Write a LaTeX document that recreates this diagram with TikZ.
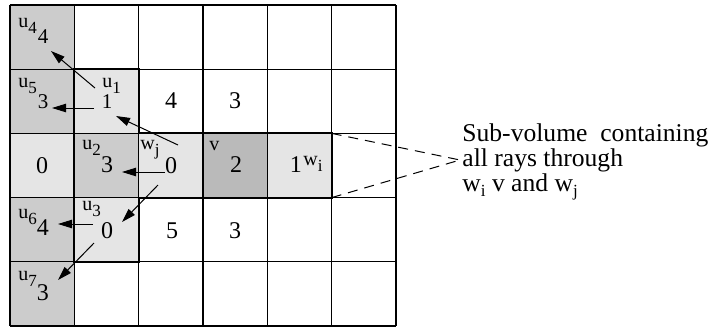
\documentclass[tikz,border=0pt]{standalone}
\usepackage{fontspec}
\setmainfont{Liberation Serif}
\usetikzlibrary{arrows.meta}

\newcommand{\sbs}[2][3pt]{\raisebox{-#1}{\fontsize{8.5}{8.5}\selectfont #2}}

\begin{document}
\begin{tikzpicture}[
    x=0.5pt, y=-0.5pt,
    darkcell/.style={fill=black!20},
    lightcell/.style={fill=black!10},
    vcell/.style={fill=black!27},
    gridline/.style={line width=0.6pt},
    border/.style={line width=1pt, line join=miter},
    num/.style={anchor=base, inner sep=0pt, font=\fontsize{12}{12}\selectfont},
    smallnum/.style={anchor=base, inner sep=0pt, font=\fontsize{10.5}{10.5}\selectfont},
    lbl/.style={anchor=base west, inner sep=0pt, font=\fontsize{10}{10}\selectfont},
    note/.style={anchor=north west, inner sep=0pt, align=left, font=\fontsize{12.8}{10.5}\selectfont},
    arrow/.style={-{Triangle[length=7pt,width=4.2pt]}, line width=0.5pt},
    ray/.style={dash pattern=on 5pt off 3.5pt, line width=0.5pt},
]
\useasboundingbox (0,0) rectangle (709,327);

% shaded cells
\fill[darkcell] (10,5) rectangle (74.33,133.4);
\fill[darkcell] (10,197.6) rectangle (74.33,326);
\fill[darkcell] (74.33,133.4) rectangle (138.67,197.6);
\fill[lightcell] (10,133.4) rectangle (74.33,197.6);
\fill[lightcell] (74.33,69.2) rectangle (138.67,133.4);
\fill[lightcell] (74.33,197.6) rectangle (138.67,261.8);
\fill[lightcell] (138.67,133.4) rectangle (203,197.6);
\fill[lightcell] (267.33,133.4) rectangle (331.67,197.6);
\fill[vcell] (203,133.4) rectangle (267.33,197.6);

% grid
\foreach \x in {10,74.33,138.67,203,267.33,331.67,396}
    \draw[gridline] (\x,5) -- (\x,326);
\foreach \y in {5,69.2,133.4,197.6,261.8,326}
    \draw[gridline] (10,\y) -- (396,\y);
\draw[border] (74.33,69.2) -- (138.67,69.2) -- (138.67,133.4) -- (331.67,133.4)
    -- (331.67,197.6) -- (138.67,197.6) -- (138.67,261.8) -- (74.33,261.8) -- cycle;

% labels
\node[lbl] (u4) at (18,27) {u\sbs{4}};
\node[lbl] (u5) at (18,87) {u\sbs{5}};
\node[lbl] (u1) at (102,87) {u\sbs{1}};
\node[lbl] (u2) at (82,149) {u\sbs{2}};
\node[lbl] (wj) at (140,149) {w\sbs{j}};
\node[lbl] (v) at (209,150) {v};
\node[lbl] (wi) at (303,165) {w\sbs{i}};
\node[lbl] (u6) at (18,218) {u\sbs{6}};
\node[lbl] (u3) at (82,210) {u\sbs{3}};
\node[lbl] (u7) at (18,280) {u\sbs{7}};

% cell values
\node[smallnum] (n44) at (43,43) {4};
\node[smallnum] (n53) at (43,108) {3};
\node[smallnum] (n11) at (107,108) {1};
\node[num] (r2c3) at (171,108) {4};
\node[num] (r2c4) at (235,108) {3};
\node[num] (r3c1) at (42,173) {0};
\node[num] (n23) at (107,172) {3};
\node[num] (nj0) at (171,173) {0};
\node[num] (nv2) at (236,172) {2};
\node[num] (ni1) at (296,172) {1};
\node[num] (n64) at (43,235) {4};
\node[num] (n30) at (107,238) {0};
\node[num] (r4c3) at (172,238) {5};
\node[num] (r4c4) at (235,238) {3};
\node[num] (n73) at (43,300) {3};

% ray ends
\coordinate (u1-a) at (95,88);
\coordinate (u1-b) at (94,108);
\coordinate (u4-in) at (51,51);
\coordinate (u5-in) at (52,108);
\coordinate (wj-a) at (178,145);
\coordinate (wj-b) at (165,172);
\coordinate (wj-c) at (158,185);
\coordinate (u1-in) at (116,116);
\coordinate (u2-in) at (122,172);
\coordinate (u3-in) at (122,222);
\coordinate (u3-a) at (93,224);
\coordinate (u3-b) at (94,243);
\coordinate (u6-in) at (58,224);
\coordinate (u7-in) at (58,280);

\draw[arrow] (u1-a) -- (u4-in);
\draw[arrow] (u1-b) -- (u5-in);
\draw[arrow] (wj-a) -- (u1-in);
\draw[arrow] (wj-b) -- (u2-in);
\draw[arrow] (wj-c) -- (u3-in);
\draw[arrow] (u3-a) -- (u6-in);
\draw[arrow] (u3-b) -- (u7-in);

% sub-volume note
\node[note] (subvol) at (462,123) {Sub-volume\ \ containing\\all rays through\\w\sbs[2.5pt]{i} v and w\sbs[2.5pt]{j}};
\coordinate (sv-top) at (331.67,133.4);
\coordinate (sv-bot) at (331.67,197.6);
\coordinate (sv-in) at (460,160);
\draw[ray] (sv-top) -- (sv-in);
\draw[ray] (sv-bot) -- (sv-in);

\end{tikzpicture}
\end{document}
